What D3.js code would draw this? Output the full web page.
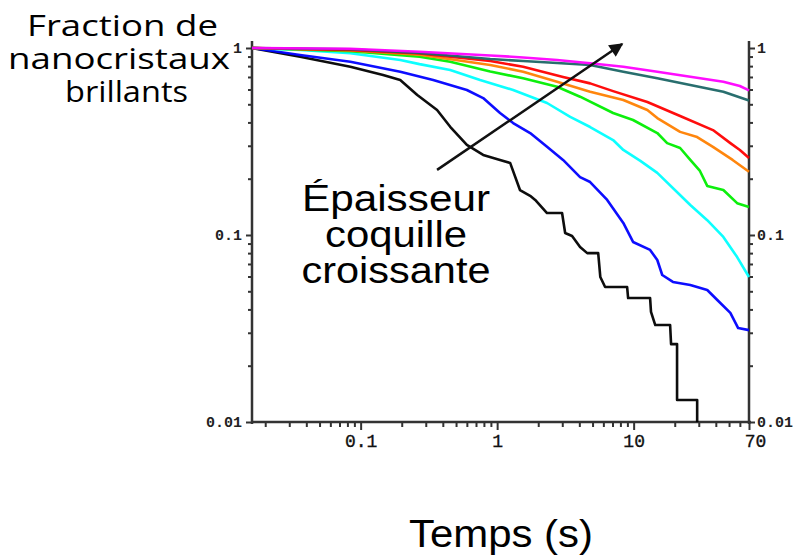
<!DOCTYPE html>
<html><head><meta charset="utf-8">
<script src="https://cdn.jsdelivr.net/npm/d3@7"></script>
<style>html,body{margin:0;padding:0;background:#fff;overflow:hidden} svg{display:block}</style>
</head><body>
<script>
// ---- data ----
const xDomain = [0.016, 70];
const yDomain = [0.01, 1];
const xTickLabels = [0.1, 1, 10, 70];
const yTickLabels = [0.01, 0.1, 1];
const yLabelText = ["Fraction de", "nanocristaux", "brillants"];
const xLabelText = "Temps (s)";
const arrowText = ["Épaisseur", "coquille", "croissante"];
const seriesColors = ["#000000", "#0000ff", "#00ffff", "#00ee00", "#ff8000", "#ff0000", "#1c6666", "#ff00ff"];

const dataBlack = [[0.016,1],[0.036,0.898],[0.084,0.794],[0.146,0.717],[0.195,0.674],[0.26,0.561],[0.363,0.466],[0.453,0.379],[0.6,0.303],[0.79,0.268],[1.05,0.252],[1.245,0.243],[1.47,0.174],[1.745,0.162],[1.9,0.154],[2.32,0.131],[2.99,0.131],[3.15,0.1025],[3.54,0.0988],[4.05,0.0863],[4.57,0.08],[5.5,0.08],[5.7,0.0596],[6.18,0.0527],[8.96,0.0527],[9.11,0.046],[13.2,0.046],[13.4,0.0388],[14.4,0.033],[18.5,0.033],[18.8,0.0261],[20.8,0.0261],[20.8,0.0131],[29.2,0.0131],[29.2,0.01]];
const dataBlue = [[0.016,1],[0.036,0.918],[0.084,0.845],[0.195,0.747],[0.34,0.674],[0.6,0.596],[0.79,0.54],[1.05,0.449],[1.31,0.397],[1.745,0.351],[2.32,0.296],[3.04,0.252],[4.05,0.204],[4.8,0.192],[6.4,0.154],[8.4,0.116],[9.9,0.0918],[13.2,0.0832],[14.9,0.0735],[16.2,0.0611],[19.4,0.0561],[26,0.054],[34.6,0.0508],[41,0.0449],[51.1,0.0383],[58.3,0.0318],[70,0.031]];
const dataCyan = [[0.016,1],[0.036,0.976],[0.084,0.937],[0.195,0.863],[0.27,0.82],[0.453,0.763],[0.75,0.674],[1.31,0.596],[2.32,0.508],[3.43,0.428],[4.8,0.378],[7.07,0.322],[8.4,0.285],[11.2,0.249],[14.9,0.215],[26,0.1446],[34.6,0.12],[45.4,0.0976],[57.3,0.0762],[70,0.0596]];
const dataGreen = [[0.016,1],[0.084,0.96],[0.27,0.898],[0.453,0.845],[0.89,0.749],[1.55,0.689],[2.75,0.621],[4.05,0.549],[7.07,0.449],[9.9,0.412],[14.9,0.351],[17.6,0.31],[21.9,0.292],[26,0.252],[30.6,0.22],[34.6,0.183],[45.4,0.174],[57.3,0.148],[70,0.141]];
const dataOrange = [[0.016,1],[0.084,0.97],[0.27,0.92],[0.89,0.811],[1.55,0.747],[2.75,0.66],[4.8,0.584],[8.4,0.527],[12.6,0.466],[14.9,0.422],[21.9,0.356],[29.2,0.334],[38.1,0.296],[53.1,0.252],[70,0.218]];
const dataRed = [[0.016,1],[0.084,0.975],[0.27,0.935],[0.89,0.852],[1.55,0.794],[3.04,0.70],[4.8,0.647],[7.07,0.588],[12.6,0.514],[21.9,0.433],[38.1,0.364],[51.1,0.31],[60,0.285],[70,0.258]];
const dataTeal = [[0.016,1],[0.084,0.985],[0.27,0.94],[0.89,0.873],[1.55,0.852],[2.75,0.832],[4.8,0.811],[8.4,0.747],[14.9,0.689],[26,0.634],[45.4,0.584],[70,0.524]];
const dataMagenta = [[0.016,1],[0.084,0.99],[0.27,0.955],[0.89,0.912],[1.55,0.89],[2.75,0.863],[4.8,0.828],[8.4,0.794],[14.9,0.747],[26,0.702],[45.4,0.66],[60,0.626],[70,0.593]];
const arrowFrom = [0.363, 0.223];
const arrowTo = [8.24, 1.05];

const allSeries = [dataBlack, dataBlue, dataCyan, dataGreen, dataOrange, dataRed, dataTeal, dataMagenta];

// ---- drawing ----
const W = 796, H = 558;
const svg = d3.select("body").append("svg").attr("width", W).attr("height", H);

const x = d3.scaleLog().domain(xDomain).range([252, 749]);
const y = d3.scaleLog().domain(yDomain).range([422, 48]);

const axisColor = "#333";
const minorX = x.ticks().filter(v => !xTickLabels.includes(v));
const minorY = y.ticks().filter(v => !yTickLabels.includes(v));

function styleAxis(g) {
  g.select(".domain").remove();
  g.selectAll(".tick line").attr("stroke", axisColor).attr("stroke-width", 2);
}

// bottom axis
svg.append("g").attr("transform", "translate(0,422)")
  .call(d3.axisBottom(x).tickValues(minorX).tickSize(5).tickFormat(""))
  .call(styleAxis);
const bx = svg.append("g").attr("transform", "translate(0,422)")
  .call(d3.axisBottom(x).tickValues(xTickLabels).tickSize(8).tickPadding(4).tickFormat(d3.format("~g")))
  .call(styleAxis);
bx.selectAll("text").attr("font-family", "Liberation Mono, monospace").attr("font-size", 18).attr("fill", "#111")
  .attr("stroke", "#111").attr("stroke-width", 0.35)
  .attr("dx", d => d === 70 ? 6 : 0);

// left axis
svg.append("g").attr("transform", "translate(252,0)")
  .call(d3.axisLeft(y).tickValues(minorY).tickSize(4).tickFormat(""))
  .call(styleAxis);
const ly = svg.append("g").attr("transform", "translate(252,0)")
  .call(d3.axisLeft(y).tickValues(yTickLabels).tickSize(6).tickPadding(4).tickFormat(d3.format("~g")))
  .call(styleAxis);
ly.selectAll("text").attr("font-family", "Liberation Mono, monospace").attr("font-weight", "bold").attr("font-size", 15).attr("fill", "#222");

// right axis
svg.append("g").attr("transform", "translate(749,0)")
  .call(d3.axisRight(y).tickValues(minorY).tickSize(4).tickFormat(""))
  .call(styleAxis);
const ry = svg.append("g").attr("transform", "translate(749,0)")
  .call(d3.axisRight(y).tickValues(yTickLabels).tickSize(6).tickPadding(2).tickFormat(d3.format("~g")))
  .call(styleAxis);
ry.selectAll("text").attr("font-family", "Liberation Mono, monospace").attr("font-weight", "bold").attr("font-size", 15).attr("fill", "#222");

// axis lines
svg.append("line").attr("x1", x.range()[0]).attr("x2", x.range()[1] + 2).attr("y1", y.range()[0]).attr("y2", y.range()[0])
  .attr("stroke", axisColor).attr("stroke-width", 2.5);
svg.append("line").attr("x1", x.range()[0]).attr("x2", x.range()[0]).attr("y1", y.range()[1] - 7).attr("y2", y.range()[0] + 2)
  .attr("stroke", axisColor).attr("stroke-width", 2.5);
svg.append("line").attr("x1", x.range()[1]).attr("x2", x.range()[1]).attr("y1", y.range()[1] - 7).attr("y2", y.range()[0] + 2)
  .attr("stroke", axisColor).attr("stroke-width", 2.5);

// series
const line = d3.line().x(d => x(d[0])).y(d => y(d[1]));
allSeries.forEach((s, i) => {
  svg.append("path").datum(s).attr("d", line)
    .attr("fill", "none").attr("stroke", seriesColors[i]).attr("stroke-width", 2.6)
    .attr("stroke-linejoin", "round").attr("opacity", 0.95);
});

// arrow
svg.append("defs").append("marker").attr("id", "ah")
  .attr("viewBox", "0 0 10 10").attr("refX", 9).attr("refY", 5)
  .attr("markerWidth", 6.5).attr("markerHeight", 5.5).attr("markerUnits", "strokeWidth").attr("orient", "auto")
  .append("path").attr("d", "M0,0 L10,5 L0,10 Z").attr("fill", "#111");
svg.append("line")
  .attr("x1", x(arrowFrom[0])).attr("y1", y(arrowFrom[1]))
  .attr("x2", x(arrowTo[0])).attr("y2", y(arrowTo[1]))
  .attr("stroke", "#111").attr("stroke-width", 2.5).attr("marker-end", "url(#ah)");

// arrow annotation text
const atLens = [188, 142, 189];
const atBase = [211, 247, 283];
arrowText.forEach((t, i) => {
  svg.append("text").attr("x", 396).attr("y", atBase[i]).attr("text-anchor", "middle")
    .attr("font-family", "Liberation Sans, Arial, sans-serif").attr("font-size", 37).attr("fill", "#000")
    .attr("textLength", atLens[i]).attr("lengthAdjust", "spacingAndGlyphs").text(t);
});

// y title
const ytLens = [191, 222, 123];
const ytBase = [36, 68.5, 101.5];
const ytCx = [122.5, 119, 126.5];
yLabelText.forEach((t, i) => {
  svg.append("text").attr("x", ytCx[i]).attr("y", ytBase[i]).attr("text-anchor", "middle")
    .attr("font-family", "Open Sans, sans-serif").attr("font-size", 29).attr("fill", "#000")
    .attr("textLength", ytLens[i]).attr("lengthAdjust", "spacingAndGlyphs").text(t);
});

// x title
svg.append("text").attr("x", 501).attr("y", 547).attr("text-anchor", "middle")
  .attr("font-family", "Liberation Sans, Arial, sans-serif").attr("font-size", 38).attr("fill", "#000")
  .attr("textLength", 184).attr("lengthAdjust", "spacingAndGlyphs").text(xLabelText);
</script>
</body></html>
